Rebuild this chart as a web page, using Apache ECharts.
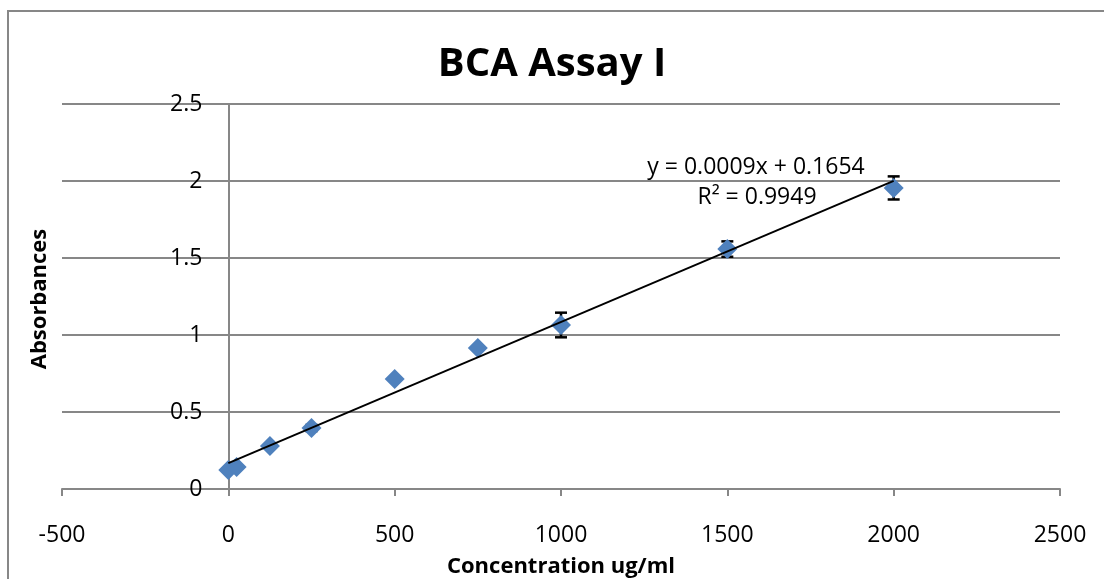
<!DOCTYPE html>
<html>
<head>
<meta charset="utf-8">
<script src="https://cdn.jsdelivr.net/npm/echarts@6/dist/echarts.min.js"></script>
<style>
  html, body { margin: 0; padding: 0; background: #fff; }
  #chart { width: 1104px; height: 579px; }
</style>
</head>
<body>
<div id="chart"></div>
<script>
// concentration (ug/ml) and absorbance
var concentration = [0, 25, 125, 250, 500, 750, 1000, 1500, 2000];
var absorbance = [0.123, 0.143, 0.279, 0.396, 0.714, 0.916, 1.065, 1.558, 1.955];
var errorSize = [0.01, 0.01, 0.01, 0.02, 0.01, 0.01, 0.08, 0.05, 0.075];
var xTicks = [-500, 0, 500, 1000, 1500, 2000, 2500];
var yTicks = [0, 0.5, 1, 1.5, 2, 2.5];
var equationText = "y = 0.0009x + 0.1654";
var r2Text = "R² = 0.9949";

var FONT = "'Open Sans', 'Noto Sans', sans-serif";
var GREY = "#878787";

// least squares line, like the spreadsheet trendline
var n = concentration.length, sx = 0, sy = 0, sxx = 0, sxy = 0;
for (var i = 0; i < n; i++) {
  sx += concentration[i]; sy += absorbance[i];
  sxx += concentration[i] * concentration[i];
  sxy += concentration[i] * absorbance[i];
}
var slope = (n * sxy - sx * sy) / (n * sxx - sx * sx);
var intercept = (sy - slope * sx) / n;
var xFirst = concentration[0], xLast = concentration[n - 1];
var trend = [[xFirst, intercept + slope * xFirst], [xLast, intercept + slope * xLast]];

var points = concentration.map(function (c, i) { return [c, absorbance[i]]; });
var errors = concentration.map(function (c, i) {
  return [c, absorbance[i] - errorSize[i], absorbance[i] + errorSize[i]];
});

var gridLeft = 62, gridRight = 44;
var plotW = 1104 - gridLeft - gridRight;
// move the y axis (line + labels) to x = 0, like the spreadsheet does
var yAxisShift = plotW * (0 - xTicks[0]) / (xTicks[xTicks.length - 1] - xTicks[0]);

var myChart = echarts.init(document.getElementById("chart"));

option = {
  backgroundColor: "#fff",
  animation: false,
  title: {
    text: "BCA Assay I",
    left: "center",
    top: 40,
    textStyle: { fontFamily: FONT, fontSize: 40, fontWeight: "bold", color: "#000" }
  },
  grid: {
    left: gridLeft, right: gridRight, top: 104, bottom: 90,
    outerBoundsMode: "none", containLabel: false
  },
  xAxis: {
    type: "value",
    min: xTicks[0],
    max: xTicks[xTicks.length - 1],
    interval: 500,
    name: "Concentration ug/ml",
    nameLocation: "middle",
    nameGap: 67,
    nameTextStyle: { fontFamily: FONT, fontSize: 22, fontWeight: "bold", color: "#000" },
    axisLine: { lineStyle: { color: GREY, width: 2 } },
    axisTick: { length: 7, lineStyle: { color: GREY, width: 2 } },
    axisLabel: {
      margin: 35, fontFamily: FONT, fontSize: 23, color: "#000",
      formatter: function (v) { return String(v); }
    },
    splitLine: { show: false }
  },
  yAxis: {
    type: "value",
    min: yTicks[0],
    max: yTicks[yTicks.length - 1],
    interval: 0.5,
    offset: -yAxisShift,
    axisLine: { show: true, onZero: false, lineStyle: { color: GREY, width: 2 } },
    axisTick: { show: false },
    axisLabel: { margin: 26, fontFamily: FONT, fontSize: 23, color: "#000" },
    splitLine: { lineStyle: { color: GREY, width: 2 } }
  },
  graphic: [
    {
      type: "rect",
      silent: true,
      shape: { x: 8, y: 11, width: 1300, height: 800 },
      style: { fill: null, stroke: GREY, lineWidth: 2 }
    },
    {
      type: "text",
      x: 40, y: 299,
      rotation: Math.PI / 2,
      style: {
        text: "Absorbances", fontFamily: FONT, fontSize: 22, fontWeight: "bold",
        fill: "#000", align: "center", verticalAlign: "middle"
      }
    },
    {
      type: "text",
      x: 756, y: 167,
      style: {
        text: equationText, fontFamily: FONT, fontSize: 23,
        fill: "#000", align: "center", verticalAlign: "middle"
      }
    },
    {
      type: "text",
      x: 757, y: 197,
      style: {
        text: r2Text, fontFamily: FONT, fontSize: 23,
        fill: "#000", align: "center", verticalAlign: "middle"
      }
    }
  ],
  series: [
    {
      name: "error",
      type: "custom",
      z: 2,
      data: errors,
      renderItem: function (params, api) {
        var lo = api.coord([api.value(0), api.value(1)]);
        var hi = api.coord([api.value(0), api.value(2)]);
        var w = 6;
        var st = { stroke: "#000", lineWidth: 2.5 };
        return {
          type: "group",
          children: [
            { type: "line", shape: { x1: lo[0], y1: lo[1], x2: hi[0], y2: hi[1] }, style: st },
            { type: "line", shape: { x1: lo[0] - w, y1: lo[1], x2: lo[0] + w, y2: lo[1] }, style: st },
            { type: "line", shape: { x1: hi[0] - w, y1: hi[1], x2: hi[0] + w, y2: hi[1] }, style: st }
          ]
        };
      }
    },
    {
      name: "Absorbance",
      type: "scatter",
      z: 3,
      symbol: "diamond",
      symbolSize: 20,
      itemStyle: { color: "#4F81BD", opacity: 1 },
      data: points
    },
    {
      name: "trend",
      type: "line",
      z: 4,
      symbol: "none",
      lineStyle: { color: "#000", width: 2 },
      data: trend
    }
  ]
};

myChart.setOption(option);
</script>
</body>
</html>
